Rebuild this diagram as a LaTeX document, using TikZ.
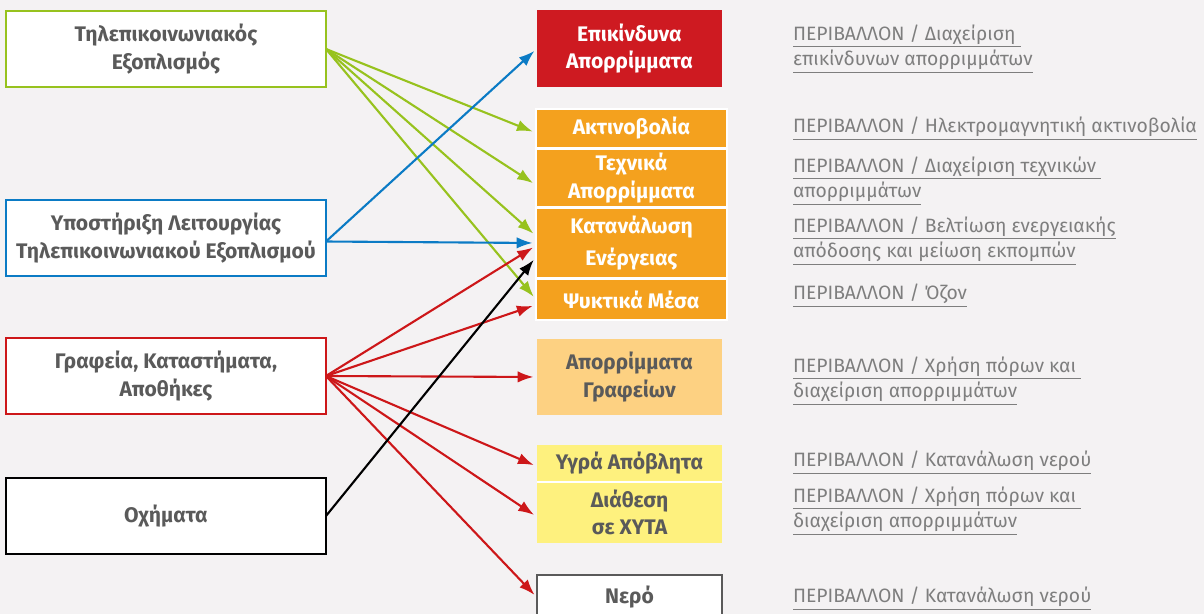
\documentclass[tikz,border=0pt]{standalone}
\usepackage{fontspec}
\setmainfont{Fira Sans}
\usetikzlibrary{arrows.meta}
\usetikzlibrary{positioning}
\definecolor{bgcol}{HTML}{F4F2F3}
\definecolor{txtgray}{HTML}{5A5A5A}
\definecolor{linkgray}{HTML}{7E7E7E}
\definecolor{telegreen}{HTML}{97C21E}
\definecolor{supblue}{HTML}{0B7BC5}
\definecolor{offred}{HTML}{CD1719}
\definecolor{hazred}{HTML}{CE1A21}
\definecolor{techorange}{HTML}{F4A11E}
\definecolor{paperorange}{HTML}{FDD182}
\definecolor{wateryellow}{HTML}{FEF17E}

\begin{document}
\begin{tikzpicture}[x=0.02cm,y=-0.02cm]
                \tikzstyle{every node}=[inner sep=0pt, outer sep=0pt]
                \tikzstyle{srcbox}=[draw, line width=1.6pt, fill=white, minimum width=6.4cm, minimum height=1.52cm, align=center, text=txtgray, font=\bfseries\fontsize{12}{16}\selectfont]
                \tikzstyle{wastebox}=[minimum width=3.7cm, align=center, font=\bfseries\fontsize{12}{15.5}\selectfont]
                \tikzstyle{stackbox}=[wastebox, fill=techorange, draw=white, line width=0.8pt, minimum width=3.82cm, text=white]
                \tikzstyle{linktext}=[anchor=base west, align=left, text=linkgray, font=\fontsize{11}{14.7}\selectfont]
                \tikzstyle{arr}=[-{Latex[length=9pt,width=6.5pt]}, line width=1.2pt, shorten >=2pt]

                \useasboundingbox (0,0) rectangle (1204,614);
                \fill[bgcol] (0,0) rectangle (1204,614);

                % sources
                \node[srcbox, draw=telegreen] (tele) at (166,49) {Τηλεπικοινωνιακός\\Εξοπλισμός};
                \node[srcbox, draw=supblue] (support) at (166,238) {Υποστήριξη Λειτουργίας\\Τηλεπικοινωνιακού Εξοπλισμού};
                \node[srcbox, draw=offred] (offices) at (166,376) {Γραφεία, Καταστήματα,\\Αποθήκες};
                \node[srcbox, draw=black] (vehicles) at (166,516) {Οχήματα};

                % impacts
                \node[wastebox, fill=hazred, text=white, minimum height=1.54cm] (hazard) at (629.5,48.5) {Επικίνδυνα\\Απορρίμματα};
                \node[stackbox, minimum height=0.78cm] (radiation) at (631.5,128.5) {Ακτινοβολία};
                \node[stackbox, minimum height=1.16cm] (techwaste) at (631.5,178) {Τεχνικά\\Απορρίμματα};
                \node[stackbox, minimum height=1.4cm] (energy) at (631.5,243) {Κατανάλωση\\[3pt]Ενέργειας};
                \node[stackbox, minimum height=0.82cm] (coolant) at (631.5,299.5) {Ψυκτικά Μέσα};
                \node[wastebox, fill=paperorange, text=txtgray, minimum height=1.52cm] (paper) at (629.5,377) {Απορρίμματα\\Γραφείων};
                \node[wastebox, fill=wateryellow, text=txtgray, minimum height=0.72cm] (liquid) at (629.5,463) {Υγρά Απόβλητα};
                \node[wastebox, fill=wateryellow, text=txtgray, minimum height=1.22cm] (landfill) at (629.5,512.5) {Διάθεση\\σε ΧΥΤΑ};
                \draw[white, line width=0.8pt] (landfill.north west) -- (landfill.north east);
                \node[wastebox, fill=white, draw=txtgray, line width=1.2pt, text=txtgray, minimum height=0.9cm] (water) at (629.5,597.5) {Νερό};

                % links
                \node[linktext] (l1) at (793,66) {\underline{ΠΕΡΙΒΑΛΛΟΝ / Διαχείριση\ }\\\underline{επικίνδυνων απορριμμάτων}};
                \node[linktext] (l2) at (793,133) {\underline{ΠΕΡΙΒΑΛΛΟΝ / Ηλεκτρομαγνητική ακτινοβολία}};
                \node[linktext] (l3) at (793,198) {\underline{ΠΕΡΙΒΑΛΛΟΝ / Διαχείριση τεχνικών\ }\\\underline{απορριμμάτων}};
                \node[linktext] (l4) at (793,258) {\underline{ΠΕΡΙΒΑΛΛΟΝ / Βελτίωση ενεργειακής}\\\underline{απόδοσης και μείωση εκπομπών}};
                \node[linktext] (l5) at (793,300) {\underline{ΠΕΡΙΒΑΛΛΟΝ / Όζον}};
                \node[linktext] (l6) at (793,398) {\underline{ΠΕΡΙΒΑΛΛΟΝ / Χρήση πόρων και\ }\\\underline{διαχείριση απορριμμάτων}};
                \node[linktext] (l7) at (793,467) {\underline{ΠΕΡΙΒΑΛΛΟΝ / Κατανάλωση νερού}};
                \node[linktext] (l8) at (793,528) {\underline{ΠΕΡΙΒΑΛΛΟΝ / Χρήση πόρων και\ }\\\underline{διαχείριση απορριμμάτων}};
                \node[linktext] (l9) at (793,603) {\underline{ΠΕΡΙΒΑΛΛΟΝ / Κατανάλωση νερού}};

                % arrows
                \draw[arr, telegreen] (tele.east) -- ([yshift=-2.5pt]radiation.west);
                \draw[arr, telegreen] (tele.east) -- ([yshift=-4pt]techwaste.west);
                \draw[arr, telegreen] (tele.east) -- ([yshift=4pt]energy.west);
                \draw[arr, telegreen] (tele.east) -- (coolant.west);
                \draw[arr, supblue] ([yshift=-2pt]support.east) -- (hazard.west);
                \draw[arr, supblue] ([yshift=-2pt]support.east) -- (energy.west);
                \draw[arr, offred] (offices.east) -- ([yshift=-1.5pt]energy.west);
                \draw[arr, offred] (offices.east) -- ([yshift=-3pt]coolant.west);
                \draw[arr, offred] (offices.east) -- (paper.west);
                \draw[arr, offred] (offices.east) -- ([yshift=-2pt]liquid.west);
                \draw[arr, offred] (offices.east) -- ([yshift=-2.5pt]landfill.west);
                \draw[arr, offred] (offices.east) -- (water.west);
                \draw[arr, black] (vehicles.east) -- ([yshift=-8pt]energy.west);
            \end{tikzpicture}
\end{document}
